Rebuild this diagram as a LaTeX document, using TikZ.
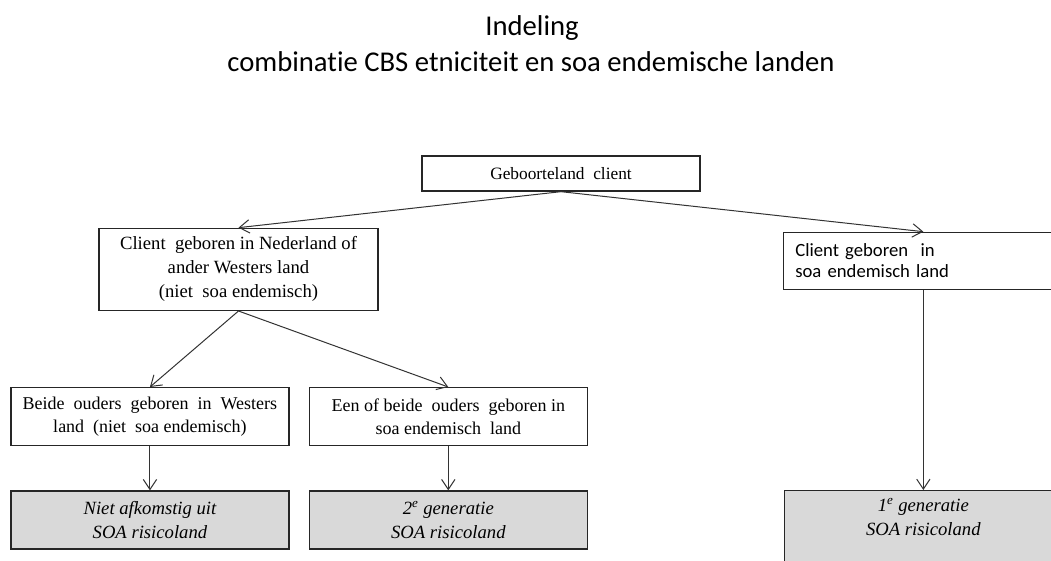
\documentclass[tikz,border=0pt]{standalone}
\usepackage{fontspec}
\setmainfont{Liberation Serif}
\newfontfamily\calibri[Ligatures=NoCommon]{Carlito}
\usetikzlibrary{arrows.meta, positioning}

\begin{document}
\begin{tikzpicture}[
    x=0.75pt, y=-0.75pt,
    block/.style={rectangle, draw=black!85, line width=1pt, fill=white, align=center, inner sep=0pt, minimum width=208.5pt, minimum height=43.5pt, font=\fontsize{13.5}{17.5}\selectfont},
    result/.style={block, fill=black!15, font=\fontsize{14}{18}\selectfont\itshape},
    titel/.style={font=\calibri\fontsize{21.5}{26}\selectfont},
    arrow/.style={draw=black!80, line width=0.75pt, -{Straight Barb[length=7.5pt, width=10pt]}}
]
\useasboundingbox (0,0) rectangle (1051,561);
\clip (0,0) rectangle (1051,561);

% Title
\node[titel] (kop) at (532,28.5) {Indeling};
\node[titel] (subkop) at (531,62) {combinatie CBS etniciteit en soa endemische landen};

% Top level
\node[block, minimum height=26.25pt, font=\fontsize{13}{17}\selectfont] (geboorte) at (561,173.5) {Geboorteland~~client};

% Born where
\node[block, below left=27pt and 32pt of geboorte, minimum width=209.25pt, minimum height=61.5pt, font=\fontsize{14}{18}\selectfont] (nl) {Client~ geboren in Nederland of\\ander Westers land\\(niet~ soa endemisch)};
\node[block, below right=30pt and 61.5pt of geboorte, align=left, text width=192pt, inner xsep=9pt, minimum height=42.75pt, font=\calibri\fontsize{14}{15.75}\selectfont] (soa) {Client geboren~ in\\soa endemisch land};

% Parents
\node[block, below=57pt of nl, xshift=-66.4pt] (beide) {Beide~ ouders~ geboren~ in~ Westers\\land~ (niet~ soa endemisch)};
\node[block, right=14.25pt of beide] (een) {Een of beide~ ouders~ geboren in\\soa endemisch~ land};

% Outcome
\node[result, below=33pt of beide] (niet) {Niet afkomstig uit\\SOA risicoland};
\node[result, right=14.25pt of niet] (tweede) {2\textsuperscript{e} generatie\\SOA risicoland};
\node[result, below=150pt of soa, minimum height=0pt, inner ysep=6pt, text depth=70pt] (eerste) {1\textsuperscript{e} generatie\\SOA risicoland};

% Connections
\draw[arrow] (geboorte.south) -- (nl.north);
\draw[arrow] (geboorte.south) -- (soa.north);
\draw[arrow] (nl.south) -- (beide.north);
\draw[arrow] (nl.south) -- (een.north);
\draw[arrow] (beide) -- (niet);
\draw[arrow] (een) -- (tweede);
\draw[arrow] (soa) -- (eerste);

\end{tikzpicture}
\end{document}
